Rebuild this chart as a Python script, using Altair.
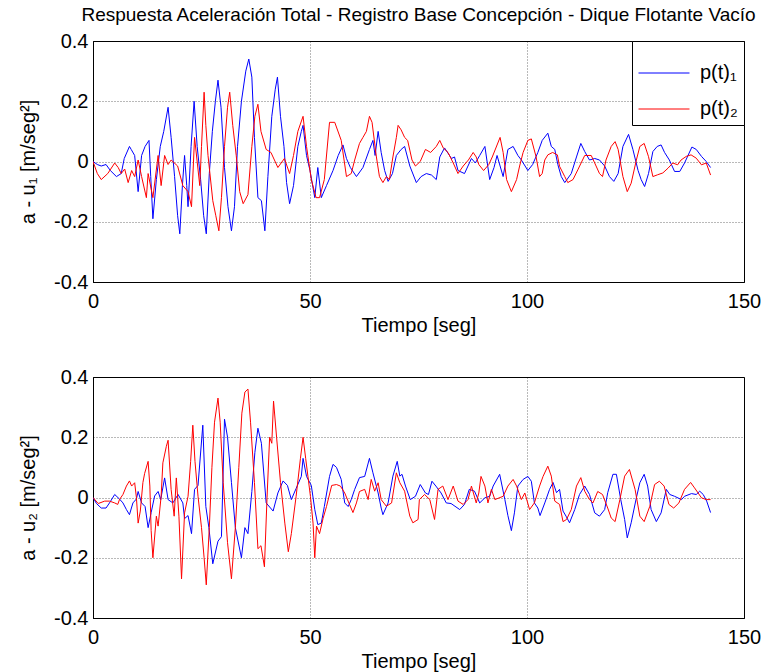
import altair as alt
import pandas as pd

# ---------------- data ----------------
t_b1 = [0.0, 1.0, 1.9, 3.0, 4.0, 5.4, 6.5, 7.2, 8.4, 8.8, 9.6, 10.4, 11.2, 12.0, 12.9, 13.3, 13.8, 14.6, 15.5, 16.3,
        17.3, 18.0, 18.8, 19.5, 20.0, 20.6, 21.1, 21.6, 21.9, 22.6, 23.3, 24.0, 24.8, 25.5, 26.1, 26.8, 27.5, 28.2,
        28.8, 29.5, 30.3, 31.1, 31.9, 32.6, 33.3, 34.2, 35.2, 35.9, 36.6, 37.2, 38.0, 38.8, 39.6, 40.3, 41.2, 42.0,
        42.5, 43.2, 44.0, 44.6, 45.3, 46.2, 47.2, 48.0, 48.4, 49.2, 50.0, 51.1, 51.8, 52.6, 53.8, 55.3, 56.5, 57.6,
        58.4, 59.3, 60.7, 62.2, 63.7, 64.5, 65.0, 65.7, 66.4, 67.2, 68.0, 69.0, 69.9, 71.0, 71.8, 73.0, 74.5, 75.6,
        76.8, 78.0, 79.1, 79.9, 81.0, 82.6, 83.3, 84.1, 85.6, 87.2, 88.1, 89.1, 90.3, 91.4, 92.4, 93.1, 94.5, 95.6,
        96.8, 97.9, 98.7, 100.2, 101.3, 102.5, 103.5, 104.8, 105.6, 106.4, 107.1, 107.9, 108.7, 110.2, 111.4, 112.4,
        113.3, 114.4, 115.6, 116.7, 117.9, 119.0, 120.0, 121.0, 122.1, 123.4, 124.4, 125.6, 126.3, 127.1, 128.0,
        129.0, 130.0, 130.9, 131.7, 132.8, 134.0, 135.2, 136.3, 138.0, 139.0, 140.2, 141.3, 142.3]
v_b1 = [0.0, -0.01, -0.015, -0.01, -0.03, -0.05, -0.04, 0.01, 0.05, 0.04, 0.02, -0.10, 0.02, 0.05, 0.07, -0.05, -0.19,
        -0.06, 0.05, 0.10, 0.18, 0.08, -0.05, -0.18, -0.24, -0.08, 0.02, -0.08, -0.15, 0.05, 0.20, 0.05, -0.06, -0.18,
        -0.24, -0.04, 0.10, 0.20, 0.27, 0.18, -0.02, -0.15, -0.23, -0.15, 0.05, 0.20, 0.30, 0.34, 0.28, 0.08, -0.12,
        -0.13, -0.23, -0.05, 0.15, 0.24, 0.28, 0.15, 0.05, -0.07, -0.14, -0.08, 0.05, 0.10, 0.12, 0.02, -0.03, -0.12,
        -0.02, -0.12, -0.08, -0.03, 0.02, 0.055, 0.01, -0.02, -0.05, -0.02, 0.04, 0.07, 0.02, 0.10, 0.03, -0.03,
        -0.066, -0.04, 0.02, 0.04, 0.05, -0.015, -0.07, -0.05, -0.04, -0.045, -0.06, 0.015, 0.045, 0.01, 0.015,
        -0.03, -0.04, 0.01, -0.005, 0.02, 0.05, -0.06, -0.02, 0.02, -0.05, 0.04, 0.05, 0.02, 0.005, -0.03, -0.01,
        0.03, 0.07, 0.094, 0.05, 0.04, -0.01, -0.05, -0.07, -0.04, 0.015, 0.06, 0.033, 0.005, 0.01, 0.005, -0.015,
        -0.05, -0.066, -0.04, 0.05, 0.09, 0.04, -0.03, -0.06, -0.083, -0.04, 0.033, 0.05, 0.055, 0.03, 0.005,
        -0.033, -0.033, -0.005, 0.048, 0.04, 0.017, 0.0, -0.02]

t_r1 = [0.0, 1.0, 1.9, 3.4, 5.0, 5.8, 6.5, 7.3, 8.1, 8.9, 9.6, 10.4, 11.2, 12.3, 12.7, 13.8, 15.0, 15.7, 16.5, 17.3,
        18.0, 19.5, 20.7, 21.9, 22.7, 23.4, 24.6, 25.0, 25.6, 26.0, 26.5, 27.6, 28.3, 29.0, 29.6, 30.3, 31.0, 31.5,
        32.2, 33.0, 33.8, 34.6, 35.7, 36.6, 37.3, 38.0, 38.7, 39.9, 41.0, 42.6, 44.1, 45.3, 46.2, 47.2, 48.4, 49.2,
        50.3, 51.4, 52.2, 53.3, 54.5, 55.7, 57.2, 58.4, 59.5, 60.3, 61.4, 62.2, 63.0, 63.7, 64.3, 65.3, 66.0, 66.8,
        67.6, 68.3, 69.1, 69.9, 70.3, 71.0, 71.8, 72.5, 73.5, 74.3, 75.4, 76.6, 77.8, 79.1, 79.9, 80.7, 81.8, 83.0,
        84.1, 85.3, 86.5, 87.6, 88.3, 88.9, 90.0, 91.2, 92.0, 93.8, 94.5, 95.3, 96.4, 97.6, 98.3, 99.1, 100.2,
        101.0, 102.1, 102.9, 103.5, 104.1, 104.8, 105.9, 107.0, 107.5, 108.7, 109.4, 110.6, 111.7, 113.3, 114.8,
        115.6, 116.7, 117.4, 118.2, 119.4, 120.3, 121.0, 122.1, 123.1, 124.0, 125.2, 126.0, 127.0, 128.0, 129.0,
        130.1, 131.3, 132.5, 133.6, 134.7, 135.5, 136.7, 137.8, 139.0, 140.2, 141.3, 142.3]
v_r1 = [0.0, -0.04, -0.06, -0.04, -0.005, -0.02, -0.04, -0.025, -0.07, -0.03, -0.05, 0.005, -0.05, -0.12, -0.04,
        -0.12, 0.02, -0.08, 0.02, -0.01, 0.005, -0.015, -0.08, -0.10, -0.15, 0.08, -0.08, 0.05, 0.23, 0.12, 0.02,
        -0.13, -0.18, -0.23, -0.12, 0.05, 0.18, 0.23, 0.12, 0.02, -0.10, -0.14, -0.11, 0.05, 0.15, 0.19, 0.10, 0.04,
        0.03, -0.02, 0.01, -0.04, 0.02, 0.10, 0.15, 0.05, -0.06, -0.12, -0.12, -0.06, 0.13, 0.13, 0.07, -0.05,
        -0.04, 0.005, 0.06, 0.08, 0.10, 0.15, 0.13, 0.015, -0.05, -0.07, -0.05, -0.06, 0.015, 0.08, 0.12, 0.105,
        0.08, 0.07, 0.005, -0.015, 0.0, 0.04, 0.03, 0.05, 0.07, 0.045, 0.03, -0.005, -0.04, -0.015, 0.005, 0.03,
        0.015, -0.01, -0.03, -0.01, 0.015, 0.08, 0.03, -0.06, -0.10, -0.06, -0.015, 0.03, 0.07, 0.075, 0.015,
        -0.05, -0.04, 0.005, 0.022, 0.03, 0.022, -0.016, -0.05, -0.07, -0.06, -0.028, 0.02, 0.02, -0.005, -0.04,
        -0.05, 0.005, 0.05, 0.066, 0.04, -0.05, -0.10, -0.072, 0.005, 0.05, 0.06, 0.016, -0.05, -0.044, -0.038,
        -0.022, -0.005, -0.011, 0.005, 0.017, 0.022, 0.011, -0.011, -0.005, -0.045]

t_b2 = [0.0, 0.8, 1.9, 3.0, 3.8, 5.0, 6.1, 6.9, 7.7, 8.4, 9.2, 10.0, 10.4, 11.2, 12.0, 12.7, 13.4, 14.2, 15.0, 15.6,
        16.5, 17.3, 18.4, 19.6, 20.7, 21.1, 21.9, 22.7, 23.4, 24.2, 25.3, 26.0, 26.7, 27.6, 28.8, 29.6, 30.3, 31.0,
        31.9, 32.8, 34.2, 35.0, 35.7, 36.6, 37.3, 38.0, 38.8, 39.9, 41.5, 42.6, 43.8, 44.8, 45.7, 46.8, 48.0, 48.4,
        49.2, 50.3, 51.1, 51.8, 52.6, 53.3, 54.5, 55.3, 56.1, 57.2, 58.0, 58.8, 59.5, 60.3, 61.4, 62.6, 63.7, 64.5,
        65.7, 66.4, 66.8, 68.0, 69.1, 70.1, 70.7, 71.2, 72.0, 73.1, 74.3, 75.4, 76.6, 77.3, 78.1, 79.0, 80.2, 81.4,
        82.5, 84.5, 85.6, 86.7, 87.9, 89.1, 90.3, 91.4, 92.2, 93.7, 94.9, 95.6, 96.4, 97.1, 97.9, 99.1, 100.2, 101.0,
        101.7, 102.5, 103.0, 104.1, 105.2, 106.0, 106.8, 107.5, 108.3, 109.0, 109.8, 111.0, 112.1, 113.3, 114.4,
        115.6, 116.7, 117.9, 118.6, 119.8, 120.6, 121.6, 122.5, 123.1, 124.0, 125.2, 126.0, 127.0, 127.8, 128.6,
        129.8, 130.9, 132.1, 132.9, 134.0, 135.6, 136.3, 137.9, 139.0, 139.8, 140.6, 141.4, 142.3]
v_b2 = [0.0, -0.02, -0.035, -0.035, -0.018, 0.01, -0.005, -0.018, -0.04, -0.057, -0.018, -0.005, 0.02, -0.018,
        -0.03, -0.10, -0.05, 0.005, 0.02, -0.007, 0.065, -0.007, -0.018, 0.01, -0.018, -0.07, -0.06, -0.12, 0.027,
        0.04, 0.24, -0.03, -0.10, -0.22, -0.145, -0.13, 0.26, 0.20, 0.05, -0.10, -0.20, -0.10, -0.12, 0.02, 0.15,
        0.23, 0.18, -0.018, -0.045, 0.015, 0.055, 0.04, -0.007, 0.03, 0.07, 0.13, 0.07, 0.04, -0.04, -0.09, -0.085,
        -0.03, 0.07, 0.11, 0.10, 0.06, -0.018, -0.03, -0.007, 0.027, 0.066, 0.07, 0.13, 0.082, 0.015, -0.035,
        -0.057, -0.018, 0.071, 0.12, 0.071, 0.077, 0.038, -0.007, 0.004, 0.043, 0.015, 0.01, 0.054, 0.038, 0.015,
        -0.018, -0.02, -0.04, -0.023, 0.027, 0.021, -0.018, -0.001, 0.004, 0.038, 0.077, -0.007, -0.06, -0.11,
        -0.051, 0.038, 0.06, 0.07, 0.054, -0.018, -0.035, -0.06, -0.018, 0.027, 0.05, 0.016, 0.027, -0.045,
        -0.062, -0.084, -0.04, 0.01, 0.038, 0.01, -0.051, -0.062, -0.04, 0.016, 0.077, 0.077, -0.007, -0.073,
        -0.134, -0.084, -0.001, 0.049, 0.077, 0.038, -0.04, -0.08, -0.051, 0.027, 0.01, 0.004, -0.007, 0.004,
        0.013, 0.01, 0.021, 0.01, -0.012, -0.05]

t_r2 = [0.0, 1.2, 2.7, 3.8, 5.0, 5.7, 6.1, 6.9, 7.7, 8.4, 8.9, 9.6, 10.0, 10.4, 10.9, 11.5, 11.9, 12.7, 13.1, 13.4,
        13.8, 14.6, 15.0, 15.7, 16.1, 16.9, 17.3, 18.0, 18.7, 19.2, 19.8, 20.4, 21.1, 21.9, 22.5, 23.0, 23.5, 24.2,
        25.0, 25.6, 26.1, 26.8, 27.4, 28.0, 28.8, 29.3, 30.0, 31.0, 31.9, 32.8, 33.6, 34.3, 35.0, 35.7, 36.3, 37.2,
        38.0, 38.7, 39.5, 40.1, 40.7, 41.2, 41.6, 42.3, 43.2, 44.2, 45.0, 45.7, 46.8, 47.8, 48.4, 49.0, 50.1, 50.7,
        51.1, 51.5, 52.2, 53.0, 53.8, 55.0, 56.1, 57.0, 58.0, 59.1, 59.9, 60.7, 61.4, 62.6, 63.4, 64.1, 64.9, 65.7,
        66.4, 67.6, 68.8, 69.9, 70.7, 71.8, 73.0, 73.7, 74.9, 75.2, 76.4, 77.6, 78.7, 79.5, 80.6, 81.8, 83.0, 84.1,
        85.3, 86.4, 87.2, 88.3, 88.9, 89.4, 90.3, 91.0, 91.8, 92.6, 94.5, 95.6, 96.8, 97.6, 98.7, 99.5, 100.6,
        101.7, 102.9, 103.7, 104.8, 105.6, 106.4, 107.5, 108.3, 109.1, 110.2, 111.4, 112.4, 113.3, 114.4, 115.2,
        116.3, 117.4, 118.6, 119.4, 120.3, 121.4, 122.5, 123.6, 124.9, 126.0, 127.0, 128.3, 129.4, 130.5, 131.6,
        132.7, 133.8, 135.0, 136.3, 137.7, 138.6, 140.2, 141.3, 142.3]
v_r2 = [0.0, -0.02, -0.012, -0.012, -0.018, -0.023, -0.007, 0.01, 0.038, 0.055, 0.038, 0.049, 0.0, -0.085, -0.045,
        0.05, 0.08, 0.12, 0.038, -0.11, -0.20, -0.062, -0.095, 0.004, 0.115, 0.17, 0.19, 0.027, -0.062, 0.065,
        -0.062, -0.27, -0.051, 0.004, 0.12, 0.24, 0.12, 0.004, -0.10, -0.20, -0.29, -0.10, 0.10, 0.25, 0.33, 0.25,
        0.05, -0.15, -0.27, -0.10, 0.10, 0.28, 0.35, 0.36, 0.25, 0.05, -0.17, -0.16, -0.23, 0.0, 0.20, 0.18, 0.32,
        0.20, 0.05, -0.085, -0.18, -0.12, 0.004, 0.13, 0.20, 0.13, 0.004, -0.085, -0.20, -0.095, -0.12, -0.07,
        -0.03, 0.04, 0.043, 0.038, 0.015, -0.023, -0.05, -0.018, 0.02, 0.027, -0.007, 0.06, 0.021, 0.049, -0.007,
        -0.029, -0.018, 0.082, 0.049, 0.021, -0.062, -0.084, -0.073, -0.007, 0.01, -0.007, -0.073, 0.027, 0.038,
        -0.007, 0.038, -0.012, -0.023, -0.007, 0.038, -0.018, 0.015, 0.07, 0.038, -0.018, 0.027, -0.007, 0.004,
        0.038, 0.06, 0.038, -0.007, 0.015, -0.04, -0.018, 0.038, 0.07, 0.104, 0.071, -0.012, -0.023, -0.08,
        -0.073, -0.04, 0.038, 0.066, 0.021, -0.007, -0.018, 0.02, 0.01, -0.035, -0.068, -0.08, -0.007, 0.071,
        0.093, 0.027, -0.062, -0.08, -0.029, 0.043, 0.054, 0.038, -0.023, -0.035, -0.018, 0.027, 0.05, 0.032,
        -0.001, -0.007, -0.007]

series_names = ["p(t)\u2081", "p(t)\u2082"]
series_colors = ["#0000ff", "#ff0000"]
x_ticks = [0, 50, 100, 150]
y_ticks = [-0.4, -0.2, 0, 0.2, 0.4]
title_text = "Respuesta Aceleración Total - Registro Base Concepción - Dique Flotante Vacío"
x_title = "Tiempo [seg]"
y_titles = ["a - u\u2081 [m/seg\u00b2]", "a - u\u2082 [m/seg\u00b2]"]


def frame(tb, vb, tr, vr):
    a = pd.DataFrame({"t": tb, "v": vb, "s": series_names[0]})
    b = pd.DataFrame({"t": tr, "v": vr, "s": series_names[1]})
    return pd.concat([a, b], ignore_index=True)


df1 = frame(t_b1, v_b1, t_r1, v_r1)
df2 = frame(t_b2, v_b2, t_r2, v_r2)

FONT = "Liberation Sans"
ylabel_expr = ("datum.value == 0 ? '0' : (datum.value < 0 ? '-' + format(-datum.value, '.1f') "
               ": format(datum.value, '.1f'))")


def panel(df, ytitle, show_legend, title=None):
    if show_legend:
        legend = alt.Legend(
            title=None, orient="top-right", offset=0, fillColor="white", strokeColor="black",
            padding=6, symbolType="stroke", symbolSize=2600, symbolStrokeWidth=1,
            labelFontSize=20, labelFont=FONT, labelColor="black", rowPadding=-12, labelOffset=10,
        )
        color = alt.Color("s:N", scale=alt.Scale(domain=series_names, range=series_colors), legend=legend)
    else:
        color = alt.Color("s:N", scale=alt.Scale(domain=series_names, range=series_colors), legend=None)
    ch = alt.Chart(df).mark_line(strokeWidth=1, clip=True).encode(
        x=alt.X("t:Q", scale=alt.Scale(domain=[0, 150], nice=False, zero=False),
                axis=alt.Axis(values=x_ticks, title=x_title, format="d", labelFlush=False)),
        y=alt.Y("v:Q", scale=alt.Scale(domain=[-0.4, 0.4], nice=False),
                axis=alt.Axis(values=y_ticks, title=ytitle, labelExpr=ylabel_expr)),
        color=color,
    )
    props = dict(width=651, height=241)
    if title is not None:
        props["title"] = alt.TitleParams(title, anchor="middle", fontSize=19, font=FONT,
                                         fontWeight="normal", offset=6, color="black")
    return ch.properties(**props)


p1 = panel(df1, y_titles[0], True, title_text)
p2 = panel(df2, y_titles[1], False)

chart = alt.vconcat(p1, p2, spacing=30).resolve_scale(color="independent").properties(
    padding={"left": 18, "top": 5, "right": 5, "bottom": 5}
).configure_view(
    stroke="black", strokeWidth=1
).configure_axis(
    labelFont=FONT, titleFont=FONT, labelFontSize=20, titleFontSize=20,
    labelColor="black", titleColor="black", titleFontWeight="normal",
    domain=True, domainColor="black", ticks=False, labelPadding=5,
    grid=True, gridColor="#000000", gridDash=[1, 2], gridOpacity=0.55, gridWidth=1,
).configure_axisY(titlePadding=15).configure_axisX(titlePadding=4, labelPadding=9)

chart.save("out.html", embed_options={"renderer": "svg", "actions": False})
